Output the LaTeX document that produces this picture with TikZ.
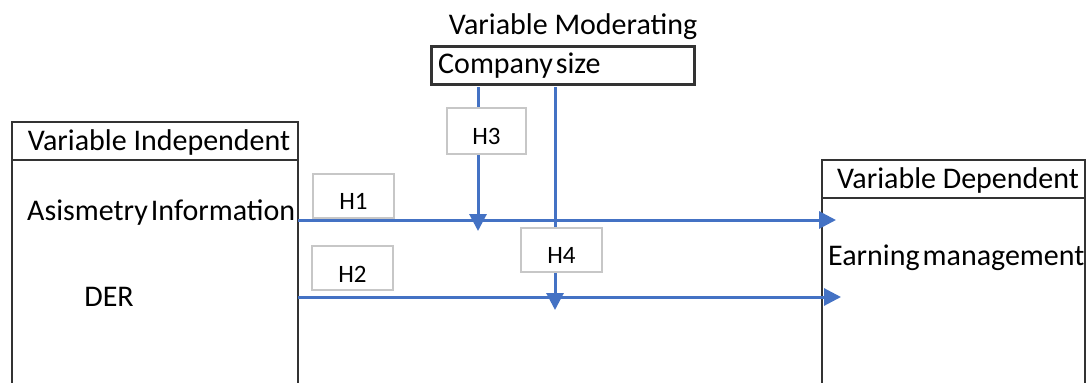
\documentclass[tikz,border=0pt]{standalone}
\usepackage{fontspec}
\setmainfont{Carlito}
\usetikzlibrary{arrows.meta}
\definecolor{hblue}{RGB}{68,114,196}
\begin{document}
\begin{tikzpicture}[x=1pt,y=-1pt,
  every node/.style={inner sep=0pt,font=\fontsize{30}{34}\selectfont},
  hbox/.style={draw=black!22,line width=1.8pt,fill=white,anchor=north west,minimum width=81pt,minimum height=44pt},
  hlabel/.style={font=\fontsize{25}{29}\selectfont},
  link/.style={hblue,line width=3pt,-{Triangle[length=17pt,width=17pt]}}]
\useasboundingbox (0,0) rectangle (1088,383);

% independent block
\draw[line width=1.6pt,black!80] (12,383) -- (12,122) -- (298,122) -- (298,383);
\draw[line width=1.6pt,black!80] (12,160) -- (298,160);
\node (indep) at (159,142) {Variable Independent};
\node[anchor=west] (asym) at (27,213) {Asismetry\hspace{3pt}Information};
\node (der) at (109,297) {DER};

% dependent block
\draw[line width=1.6pt,black!80] (822,383) -- (822,160) -- (1085,160) -- (1085,383);
\draw[line width=1.6pt,black!80] (822,198) -- (1085,198);
\node (dep) at (958,180) {Variable Dependent};
\node[anchor=west] (earn) at (828,258) {Earning\hspace{3pt}management};

% moderating block
\node (modt) at (573,27) {Variable Moderating};
\node[draw=black!80,line width=2.6pt,anchor=north west,minimum width=263pt,minimum height=38pt] (size) at (430,45) {};
\node[anchor=west] (sizet) at ([xshift=8pt]size.west) {Company\hspace{3pt}size};

% paths
\coordinate (s1) at (478,87);
\coordinate (t1) at (478,231);
\coordinate (s2) at (555,87);
\coordinate (t2) at (555,310);
\coordinate (a1) at (298,220);
\coordinate (b1) at (836,220);
\coordinate (a2) at (298,297);
\coordinate (b2) at (841,297);
\draw[link] (a1) -- (b1);
\draw[link] (a2) -- (b2);
\draw[link] (s1) -- (t1);
\draw[link] (s2) -- (t2);

% hypotheses
\node[hbox] (h1) at (312,173) {};
\node[hlabel] (h1t) at ([yshift=-6pt]h1.center) {H1};
\node[hbox] (h2) at (311,245) {};
\node[hlabel] (h2t) at ([yshift=-6pt]h2.center) {H2};
\node[hbox,minimum width=79pt,minimum height=46pt] (h3) at (446,107) {};
\node[hlabel] (h3t) at ([yshift=-6pt]h3.center) {H3};
\node[hbox] (h4) at (520,227) {};
\node[hlabel] (h4t) at ([yshift=-6pt]h4.center) {H4};

\end{tikzpicture}
\end{document}
